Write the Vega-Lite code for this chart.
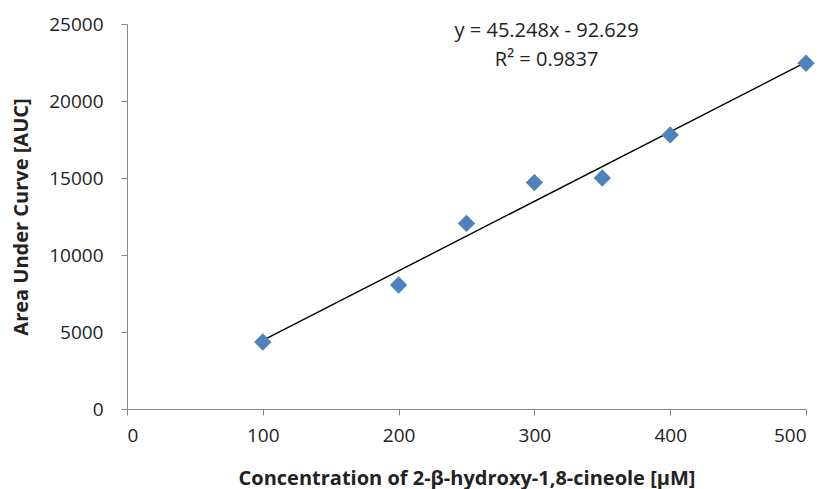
{
  "$schema": "https://vega.github.io/schema/vega-lite/v6.json",
  "autosize": {"type": "none"},
  "padding": {"left": 127, "top": 24, "right": 19, "bottom": 80},
  "width": 679,
  "height": 385,
  "background": "white",
  "config": {
    "view": {"stroke": null},
    "font": "Open Sans",
    "axis": {
      "grid": false,
      "domainColor": "#868686",
      "tickColor": "#868686",
      "tickSize": 6,
      "labelFontSize": 19,
      "labelColor": "#222222",
      "labelFont": "Open Sans",
      "titleFont": "Open Sans",
      "titleFontSize": 20,
      "titleFontWeight": "bold",
      "titleColor": "#222222"
    }
  },
  "datasets": {
    "pts": [
      {"conc": 100, "auc": 4350},
      {"conc": 200, "auc": 8050},
      {"conc": 250, "auc": 12050},
      {"conc": 300, "auc": 14700},
      {"conc": 350, "auc": 15000},
      {"conc": 400, "auc": 17800},
      {"conc": 500, "auc": 22450}
    ],
    "ann": [
      {"conc": 309, "auc": 24550, "label": "y = 45.248x - 92.629"},
      {"conc": 309, "auc": 22650, "label": "R² = 0.9837"}
    ]
  },
  "layer": [
    {
      "data": {"name": "pts"},
      "transform": [{"regression": "auc", "on": "conc", "method": "linear", "extent": [100, 500]}],
      "mark": {"type": "line", "color": "black", "strokeWidth": 1.4},
      "encoding": {
        "x": {"field": "conc", "type": "quantitative", "scale": {"domain": [0, 500], "nice": false},
          "axis": {"values": [0, 100, 200, 300, 400, 500], "title": "Concentration of 2-β-hydroxy-1,8-cineole [µM]", "labelPadding": 11, "titlePadding": 23}},
        "y": {"field": "auc", "type": "quantitative", "scale": {"domain": [0, 25000], "nice": false},
          "axis": {"values": [0, 5000, 10000, 15000, 20000, 25000], "format": "d", "title": "Area Under Curve [AUC]", "labelPadding": 18, "titlePadding": 17}}
      }
    },
    {
      "data": {"name": "pts"},
      "mark": {"type": "point", "shape": "diamond", "filled": true, "color": "#4F81BD", "size": 300, "opacity": 1},
      "encoding": {
        "x": {"field": "conc", "type": "quantitative"},
        "y": {"field": "auc", "type": "quantitative"}
      }
    },
    {
      "data": {"name": "ann"},
      "mark": {"type": "text", "fontSize": 20, "color": "#222222", "font": "Open Sans", "align": "center", "baseline": "middle"},
      "encoding": {
        "x": {"field": "conc", "type": "quantitative"},
        "y": {"field": "auc", "type": "quantitative"},
        "text": {"field": "label"}
      }
    }
  ]
}
